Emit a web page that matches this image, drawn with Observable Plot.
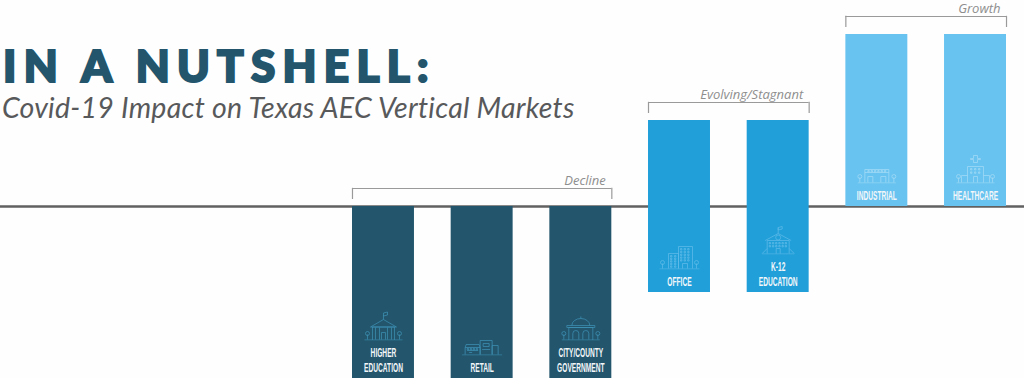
<!DOCTYPE html>
<html><head><meta charset="utf-8">
<script src="https://cdn.jsdelivr.net/npm/d3@7"></script>
<script src="https://cdn.jsdelivr.net/npm/@observablehq/plot@0.6"></script>
<style>
html,body{margin:0;padding:0;background:#fefefe;overflow:hidden}
#wrap{position:relative;width:1024px;height:378px}
#t1{position:absolute;left:3px;top:35px;font:900 44px/60px Lato,sans-serif;letter-spacing:7.3px;color:#23566d;-webkit-text-stroke:2.2px #23566d;white-space:nowrap}
#t2{position:absolute;left:2px;top:89px;font:italic 400 28.5px/36px Lato,sans-serif;letter-spacing:.25px;color:#58595b;white-space:nowrap}
</style></head><body>
<div id="wrap">
<div id="chart"></div>
<div id="t1">IN A NUTSHELL:</div>
<div id="t2">Covid-19 Impact on Texas AEC Vertical Markets</div>
</div>
<script>
const categories = ["Higher Education","Retail","City/County Government","Office","K-12 Education","Industrial","Healthcare"];
const labels = ["HIGHER\nEDUCATION","RETAIL","CITY/COUNTY\nGOVERNMENT","OFFICE","K-12\nEDUCATION","INDUSTRIAL","HEALTHCARE"];
const groups = ["Decline","Decline","Decline","Evolving/Stagnant","Evolving/Stagnant","Growth","Growth"];
const lows  = [-2,-2,-2,-1,-1,0,0];
const highs = [0,0,0,1,1,2,2];
const groupNames = ["Decline","Evolving/Stagnant","Growth"];
const groupTops = [0,1,2];
const groupFirst = ["Higher Education","Office","Industrial"];
const groupLast = ["City/County Government","K-12 Education","Healthcare"];
const groupColors = ["#23566d","#219fd9","#68c3f0"];
const iconInk = {"Decline":"#3f93b8","Evolving/Stagnant":"#63bde9","Growth":"#a8dcf7"};

const rows = categories.map((c,i)=>({c,label:labels[i],group:groups[i],low:lows[i],high:highs[i],lines:labels[i].split("\n").length}));
const brackets = groupNames.map((g,i)=>({g,top:groupTops[i],first:groupFirst[i],last:groupLast[i]}));

// Small line-art building glyphs (viewBox 44x30, ground line near the bottom)
const win=(x,y,nx,ny,dx,dy)=>{let s="";for(let i=0;i<nx;i++)for(let j=0;j<ny;j++)s+=`M${x+i*dx} ${y+j*dy}h1.4v1.4h-1.4z`;return s;};
const tree=(x,b)=>`M${x} ${b}v-5M${x-2} ${b-6}a2 2 0 1 1 4 0a2 2 0 1 1 -4 0`;
const glyphs = {
 "Higher Education":`M3 29.5h38M11 29.5v-13h22v13M9 16.5h26L22 9zM22 9V5M22 2.5l4 -1v3l-4 1zM14 17v12M18 17v12M26 17v12M30 17v12M20 29v-7h4v7`+tree(6,29)+tree(38,29),
 "Retail":`M2 29.5h40M5 29v-7h15v7M5 22l1 -3h13l1 3M20 29V15h12v14M32 29v-9h6v9M7 25h11M23 18h6v3h-6zM22 24h8M9 27h3`+win(7,23,4,1,3,0),
 "City/County Government":`M3 29.5h38M10 29.5V17h24v12.5M8 17h28v-2H8zM13 15a9 7 0 0 1 18 0M22 8V6M14 29v-6a3 3 0 0 1 6 0v6M24 29v-6a3 3 0 0 1 6 0v6`+tree(5,29)+tree(39,29),
 "Office":`M2 29.5h40M11 29V14h10v15M21 29V7h14v22M25 29v-5h5v5`+win(13,16,2,5,4,2.6)+win(23,9,3,5,3.6,2.8)+tree(5,29)+tree(39,29),
 "K-12 Education":`M6 29.5h32M11 29V16h22v13M9 16l13 -7l13 7M22 9V3M22 3l4 -1v2.5l-4 1zM19.5 13a2.5 2.5 0 1 1 5 0a2.5 2.5 0 1 1 -5 0M20 29v-5h4v5M6 29l5 -5M38 29l-5 -5`+win(13,18,6,2,3.2,3),
 "Industrial":`M3 29.5h38M10 29V16h24v13M10 19h24M13 29v-6h5v6M26 29v-6h5v6`+win(13,17,6,1,3.3,0)+tree(5,29)+tree(39,29),
 "Healthcare":`M3 29.5h38M14 29V13h16v16M20 29v-6h4v6M8 29v-7h6M36 29v-7h-6M20 9h4v-3h3v-1h-3v-3h-4v3h-3v1h3z`+win(17,15,3,2,4,3.4)+tree(5,29)+tree(39,29)
};
const iconSrc = d => "data:image/svg+xml," + encodeURIComponent(
 `<svg xmlns="http://www.w3.org/2000/svg" viewBox="0 0 44 30"><path d="${glyphs[d.c]}" fill="none" stroke="${iconInk[d.group]}" stroke-width=".7"/></svg>`);

const squeeze = (index,scales,values,dims,ctx,next)=>{
  const g = next(index,scales,values,dims,ctx);
  d3.select(g).selectAll("text").attr("transform",function(){return (this.getAttribute("transform")||"")+" scale(.53,1)";});
  return g;
};

const chart = Plot.plot({
  width:1024,height:378,margin:0,
  style:{background:"#fefefe",overflow:"visible"},
  x:{type:"band",domain:categories,range:[352,1006],paddingInner:.372,paddingOuter:0,round:false,axis:null},
  y:{domain:[-2,2],range:[378,34],axis:null},
  color:{domain:groupNames,range:groupColors},
  marks:[
    Plot.ruleY([0],{stroke:"#616161",strokeWidth:2.5}),
    Plot.barY(rows,{x:"c",y1:"low",y2:"high",fill:"group"}),
    Plot.image(rows,{filter:d=>d.lines===2,x:"c",y:"low",src:iconSrc,width:44,height:30,dy:-53}),
    Plot.image(rows,{filter:d=>d.lines===1,x:"c",y:"low",src:iconSrc,width:44,height:30,dy:-38}),
    Plot.text(rows,{x:"c",y:"low",text:"label",lineAnchor:"bottom",lineHeight:1.17,dy:-6.5,fill:"#f3f7f9",fontFamily:"'Liberation Sans',sans-serif",fontWeight:700,fontSize:12.5,letterSpacing:.6,render:squeeze}),
    Plot.ruleY(brackets,{x1:"first",x2:"last",y:"top",dy:-18,stroke:"#9a9a9a",strokeWidth:1.2}),
    Plot.ruleX(brackets,{x:"first",y1:"top",y2:d=>d.top+.13,dx:-31,dy:-7,stroke:"#9a9a9a",strokeWidth:1.2}),
    Plot.ruleX(brackets,{x:"last",y1:"top",y2:d=>d.top+.13,dx:31,dy:-7,stroke:"#9a9a9a",strokeWidth:1.2}),
    Plot.text(brackets,{x:"last",y:"top",text:"g",dx:25,dy:-26,textAnchor:"end",fill:"#8e8e8e",fontFamily:"'Open Sans',sans-serif",fontStyle:"italic",fontSize:13,letterSpacing:2.75})
  ]
});
document.getElementById("chart").append(chart);
</script>
</body></html>
